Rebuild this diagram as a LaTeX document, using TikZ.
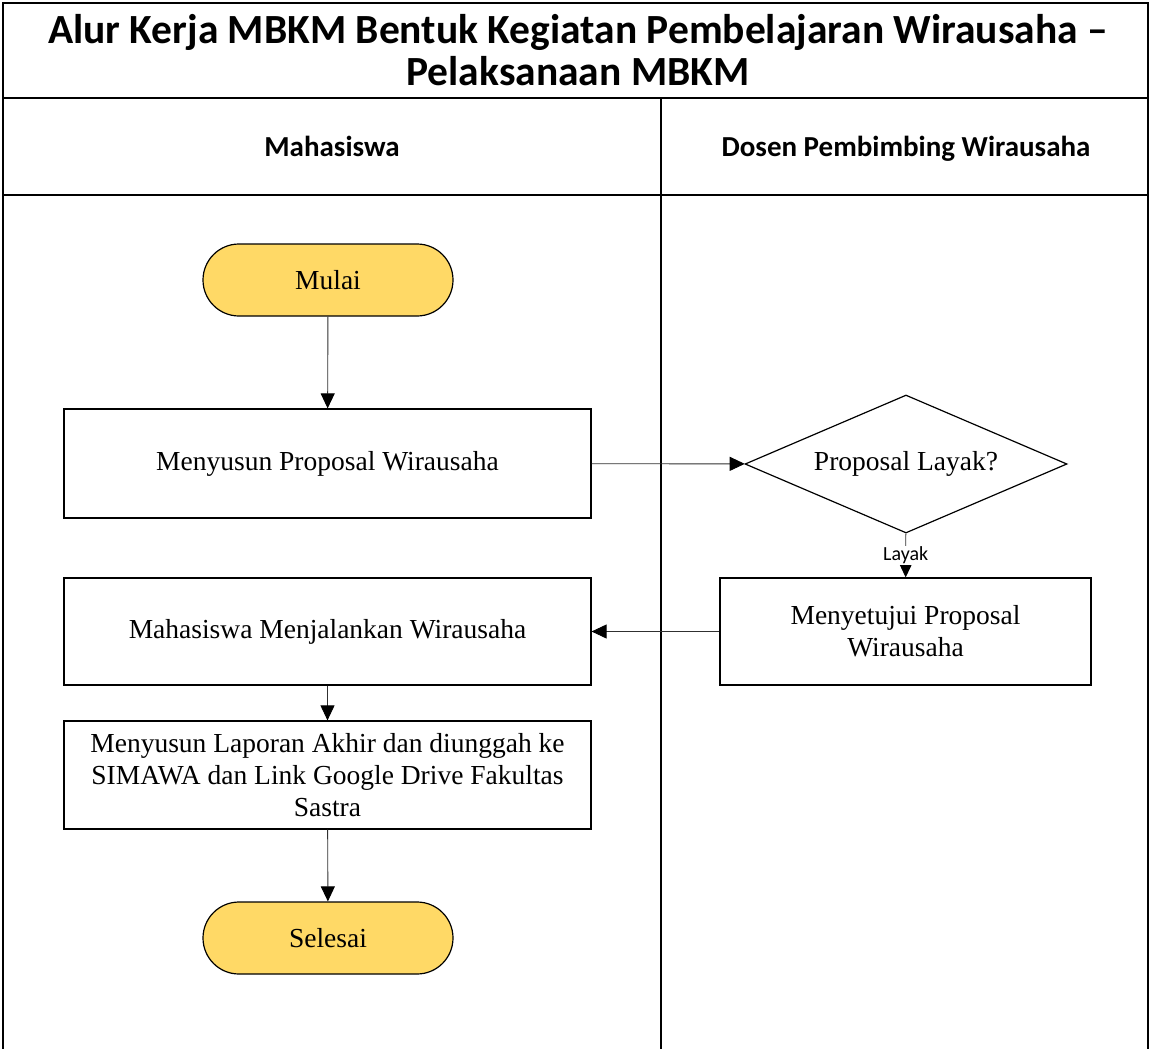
\documentclass[tikz,border=0pt]{standalone}
\usepackage{fontspec}
\setmainfont{Liberation Serif}
\newfontfamily\calibri{Carlito}
\usetikzlibrary{shapes.geometric,arrows.meta}
\definecolor{termfill}{HTML}{FFD966}
\definecolor{wire}{HTML}{303030}
\tikzset{
  frame/.style={line width=2pt},
  lane/.style={line width=1.2pt},
  bodyfont/.style={font=\fontsize{27.5}{32}\selectfont},
  procbox/.style={draw, line width=1.2pt, minimum width=527pt, minimum height=109pt, align=center, bodyfont},
  terminal/.style={draw, line width=1.2pt, fill=termfill, rounded corners=36pt, minimum width=250pt, minimum height=72pt, bodyfont},
  decision/.style={draw, line width=1.2pt, diamond, aspect=2.33, minimum width=322pt, minimum height=138pt, inner sep=0pt, bodyfont},
  flow/.style={draw=wire, line width=0.9pt, -{Triangle[length=15pt,width=14pt,color=black,fill=black]}},
  lanehead/.style={anchor=base, font=\calibri\bfseries\fontsize{29}{34}\selectfont},
}
\begin{document}
\begin{tikzpicture}[x=1pt,y=-1pt]
\useasboundingbox (0,0) rectangle (1151,1049);
% swimlane frame
\draw[frame] (3,1052) -- (3,3) -- (1148,3) -- (1148,1052);
\draw[frame] (3,98) -- (1148,98);
\draw[lane] (3,195) -- (1148,195);
\draw[lane] (661,98) -- (661,1052);
\node[font=\calibri\bfseries\fontsize{41.5}{42}\selectfont, align=center] (title) at (578,50)
  {Alur Kerja MBKM Bentuk Kegiatan Pembelajaran Wirausaha –\\Pelaksanaan MBKM};
\node[lanehead] (laneA) at (332,156) {Mahasiswa};
\node[lanehead] (laneB) at (906,156) {Dosen Pembimbing Wirausaha};
% flow nodes
\node[terminal] (start) at (328,280) {Mulai};
\node[procbox] (prop) at (327.5,463.5) {Menyusun Proposal Wirausaha};
\node[decision] (cek) at (906,464) {Proposal Layak?};
\node[procbox, minimum width=371pt, minimum height=107pt] (setuju) at (905.5,631.5) {Menyetujui Proposal\\Wirausaha};
\node[procbox, minimum height=107pt] (jalan) at (327.5,631.5) {Mahasiswa Menjalankan Wirausaha};
\node[procbox, minimum height=108pt] (lapor) at (327.5,775) {Menyusun Laporan Akhir dan diunggah ke\\SIMAWA dan Link Google Drive Fakultas\\Sastra};
\node[terminal] (end) at (328,938) {Selesai};
% connectors
\draw[flow] (start) -- (prop);
\draw[flow] (prop) -- (cek);
\draw[flow] (cek) -- node[fill=white, inner sep=1pt, font=\calibri\fontsize{20}{22}\selectfont] (lbl) {Layak} (setuju);
\draw[flow] (setuju) -- (jalan);
\draw[flow] (jalan) -- (lapor);
\draw[flow] (lapor) -- (end);
\end{tikzpicture}
\end{document}
